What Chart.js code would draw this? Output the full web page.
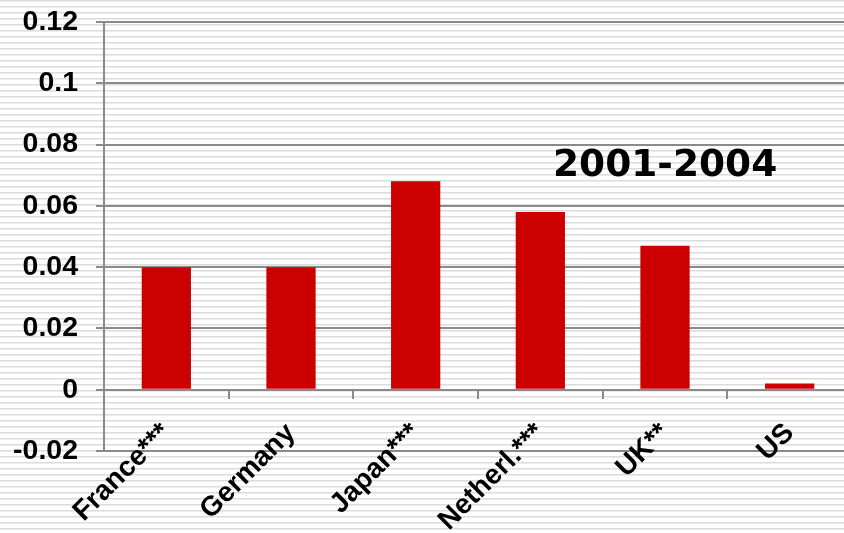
<!DOCTYPE html>
<html>
<head>
<meta charset="utf-8">
<script src="https://cdn.jsdelivr.net/npm/chart.js@4/dist/chart.umd.min.js"></script>
<style>
  html, body { margin: 0; padding: 0; overflow: hidden; }
  body {
    width: 844px; height: 533px;
    background: repeating-linear-gradient(to bottom,
      #dcdcdc 0px, #dcdcdc 1px, #ececec 1px, #ececec 2px, #ffffff 2px, #ffffff 6px);
  }
  #wrap { position: absolute; left: 0; top: 0; width: 852px; height: 533px; }
</style>
</head>
<body>
<div id="wrap"><canvas id="c" width="852" height="533"></canvas></div>
<script>
const categories = ["France***", "Germany", "Japan***", "Netherl.***", "UK**", "US"];
const values = [0.040, 0.040, 0.068, 0.058, 0.047, 0.002];
const yTicks = [-0.02, 0, 0.02, 0.04, 0.06, 0.08, 0.1, 0.12];
const periodLabel = "2001-2004";

const annotation = {
  id: 'periodText',
  afterDraw(chart) {
    const ctx = chart.ctx;
    ctx.save();
    ctx.font = 'bold 37.5px "DejaVu Sans"';
    ctx.fillStyle = '#000';
    ctx.textAlign = 'left';
    ctx.textBaseline = 'alphabetic';
    ctx.fillText(periodLabel, 553, 176);
    ctx.restore();
  }
};

new Chart(document.getElementById('c'), {
  type: 'bar',
  data: {
    labels: categories,
    datasets: [{
      data: values,
      backgroundColor: '#cc0000',
      borderWidth: 0,
      categoryPercentage: 1,
      barPercentage: 0.395
    }]
  },
  options: {
    responsive: false,
    animation: false,
    layout: { padding: { top: 22, bottom: 82, left: 0, right: 0 } },
    plugins: { legend: { display: false }, tooltip: { enabled: false } },
    scales: {
      x: {
        position: { y: 0 },
        grid: { display: true, drawOnChartArea: false, drawTicks: true, tickLength: 8, color: '#8a8a8a', lineWidth: 2, offset: true },
        border: { display: true, color: '#8a8a8a', width: 2 },
        ticks: {
          minRotation: 45, maxRotation: 45, autoSkip: false, padding: 19,
          color: '#000', font: { family: '"Liberation Sans", Arial', size: 28, weight: 'bold' }
        }
      },
      y: {
        min: -0.02, max: 0.12,
        afterBuildTicks(scale) { scale.ticks = yTicks.map(v => ({ value: v })); },
        afterFit(scale) { scale.width = 104; scale.paddingTop = 0; scale.paddingBottom = 0; },
        grid: { color: '#8a8a8a', lineWidth: 2, tickLength: 8 },
        border: { display: true, color: '#8a8a8a', width: 2 },
        ticks: {
          padding: 18, color: '#000',
          font: { family: '"Liberation Sans", Arial', size: 28.5, weight: 'bold' },
          callback: v => String(Math.round(v * 100) / 100)
        }
      }
    }
  },
  plugins: [annotation]
});
</script>
</body>
</html>
